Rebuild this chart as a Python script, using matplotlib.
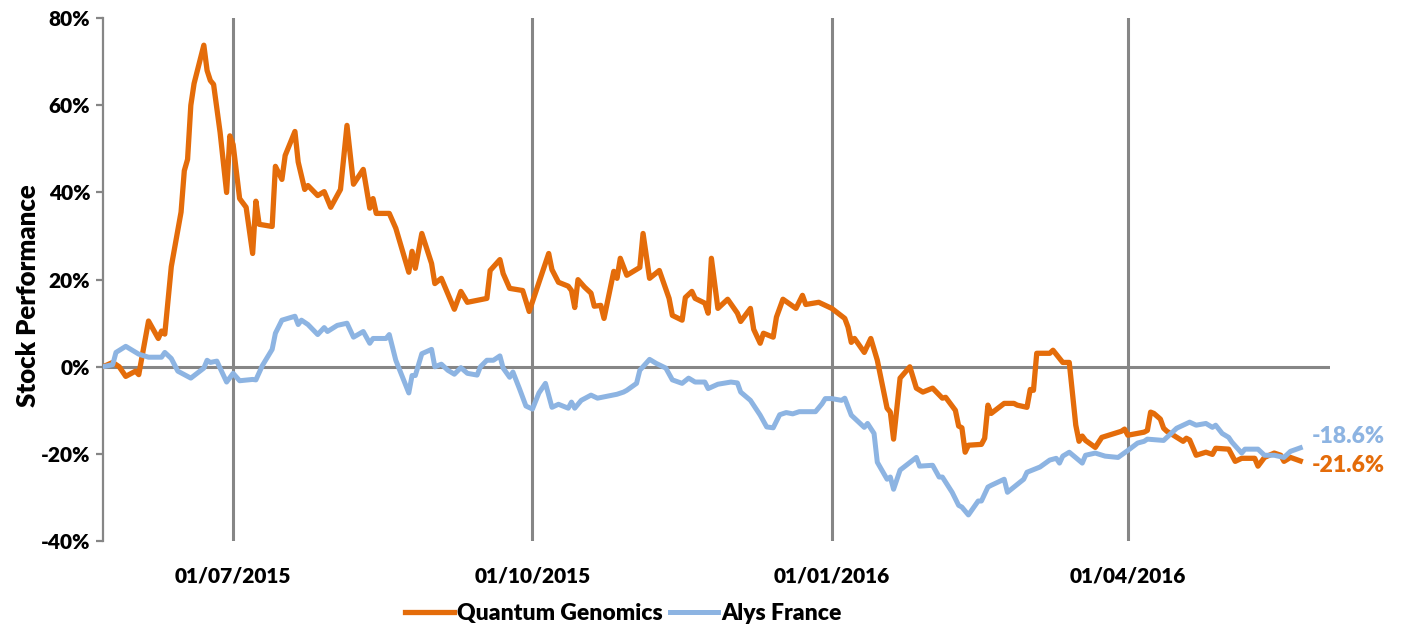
import pandas as pd
import matplotlib
matplotlib.use('Agg')
import matplotlib.pyplot as plt
import matplotlib.dates as mdates
from matplotlib.ticker import FuncFormatter

plt.rcParams['font.family'] = ['Lato', 'DejaVu Sans']
plt.rcParams['font.weight'] = 'heavy'

start = pd.Timestamp('2015-05-22')

# Quantum Genomics: days since start, performance in %
qg_days = [0, 3, 5, 7, 10, 11, 14, 17, 18, 19, 21, 24, 25, 26, 27, 28, 31, 32, 33, 34,
           36, 38, 39, 40, 42, 44, 46, 47, 48, 52, 53, 55, 56, 59, 60, 62, 63, 66, 68, 70,
           73, 75, 77, 80, 82, 83, 84, 88, 90, 94, 95, 96, 98, 101, 102, 104, 108, 110, 112, 118,
           119, 122, 123, 125, 129, 131, 137, 138, 140, 143, 144, 145, 146, 148, 150, 151, 153, 154, 157, 158,
           159, 161, 165, 166, 168, 171, 174, 175, 178, 179, 181, 182, 185, 186, 187, 189, 192, 195, 196, 199,
           200, 202, 203, 206, 207, 209, 213, 215, 216, 220, 224, 228, 229, 230, 231, 234, 236, 238, 241, 242,
           243, 245, 248, 250, 252, 255, 258, 259, 262, 263, 264, 265, 266, 270, 271, 272, 273, 277, 280, 281,
           284, 285, 286, 287, 291, 292, 295, 297, 299, 300, 301, 302, 305, 307, 313, 314, 315, 320, 321, 322,
           323, 325, 326, 327, 329, 332, 333, 334, 336, 339, 341, 342, 346, 348, 350, 354, 355, 357, 360, 362,
           363, 365, 368]
qg_perf = [0, 1.0, 0, -2.2, -1.0, -1.8, 10.5, 6.5, 8.2, 7.5, 23, 35.5, 45, 47.6, 60, 65, 73.8, 68, 65.7, 64.8,
           53.8, 40, 53, 51, 38.6, 36.6, 26, 38, 32.7, 32.2, 46, 43, 48.5, 54, 47, 40.7, 41.6, 39.3, 40.2, 36.6,
           40.7, 55.4, 41.9, 45.3, 36.4, 38.6, 35.2, 35.2, 31.8, 21.7, 26.5, 22.6, 30.6, 23.7, 19.1, 20.3, 13.2, 17.3, 14.8, 15.7,
           22.1, 24.6, 21.4, 18, 17.5, 12.7, 26, 22.3, 19.4, 18.5, 17.5, 13.6, 20, 18.3, 16.9, 13.9, 14.1, 11.1, 21.9, 20.3,
           24.9, 21, 22.8, 30.6, 20.3, 22.1, 15.7, 11.8, 10.7, 15.9, 17.3, 15.7, 14.6, 12.3, 24.9, 13.4, 15.5, 12.3, 10.4, 13.4,
           8.6, 5.4, 7.7, 6.8, 11.4, 15.5, 13.4, 16.4, 14.3, 14.8, 13.4, 11.1, 9.1, 5.6, 6.5, 3.3, 6.5, 1.5, -9.5, -10.4,
           -16.6, -2.6, 0, -4.9, -5.8, -4.9, -7.2, -7, -10, -13.6, -14, -19.6, -18, -17.8, -16.4, -8.8, -10.7, -8.4, -8.4, -8.8,
           -9.3, -5.2, -5.4, 3.1, 3.1, 3.8, 1, 1, -13.4, -17.1, -15.9, -16.9, -18.5, -16.2, -14.8, -14.3, -15.7, -15, -14.6, -10.4,
           -10.7, -12, -14.1, -14.8, -15.7, -17.1, -16.4, -16.8, -20.3, -19.6, -20.1, -18.7, -18.9, -21.7, -21, -21, -22.8, -20.8, -19.8, -20.3,
           -21.7, -20.8, -21.6]

# Alys France
af_days = [0, 3, 4, 7, 9, 11, 14, 18, 19, 21, 23, 27, 31, 32, 33, 35, 36, 38, 40, 42,
           46, 47, 49, 52, 53, 55, 59, 60, 61, 63, 66, 68, 69, 72, 75, 77, 80, 82, 83, 87,
           88, 90, 94, 95, 96, 98, 101, 102, 104, 106, 108, 110, 112, 115, 116, 118, 120, 122, 123, 125,
           126, 128, 130, 132, 134, 136, 138, 140, 143, 144, 145, 147, 150, 152, 158, 160, 161, 164, 165, 168,
           170, 173, 175, 178, 180, 182, 185, 186, 189, 193, 195, 196, 199, 202, 204, 206, 208, 210, 212, 214,
           217, 219, 221, 222, 224, 227, 228, 230, 234, 235, 237, 238, 241, 242, 243, 245, 250, 251, 255, 257,
           258, 261, 263, 264, 266, 269, 270, 272, 273, 277, 278, 283, 284, 288, 291, 293, 294, 295, 297, 301,
           302, 305, 308, 312, 315, 318, 320, 321, 326, 330, 334, 336, 339, 341, 342, 344, 346, 347, 350, 351,
           355, 357, 360, 363, 365, 368]
af_perf = [0, 0.5, 3.3, 4.7, 3.8, 2.9, 2.2, 2.2, 3.3, 1.9, -1, -2.6, -0.3, 1.5, 1, 1.3, -0.3, -3.5, -1.5, -3.2,
           -2.9, -3, 0.3, 4, 7.7, 10.7, 11.6, 9.7, 10.7, 9.7, 7.4, 9, 8.1, 9.5, 10, 6.8, 8.1, 5.4, 6.5, 6.5,
           7.4, 1.5, -6, -2, -2, 3, 4, 0, 0.6, -0.8, -1.7, -0.2, -1.5, -1.9, 0, 1.5, 1.5, 2.5, -0.3, -2.4,
           -1.2, -5, -9, -9.7, -6, -3.8, -9.3, -8.6, -9.5, -8.1, -9.5, -7.7, -6.5, -7.2, -6.3, -5.8, -5.4, -3.8, -0.8, 1.7,
           0.8, -0.3, -3, -3.8, -2.6, -3.5, -3.5, -5, -4, -3.5, -3.7, -5.8, -7.7, -11.1, -13.8, -14, -11, -10.5, -10.8, -10.3,
           -10.3, -10.3, -8.5, -7.3, -7.3, -7.7, -7.2, -11.1, -13.9, -13, -15.3, -21.9, -25.8, -25.3, -28.1, -23.7, -20.8, -22.8, -22.6, -25.3,
           -25.3, -28.8, -31.8, -32.2, -34, -30.8, -30.8, -27.6, -27.2, -25.8, -28.8, -25.8, -24.2, -23, -21.4, -21, -22.1, -20.5, -19.6, -22.1,
           -20.3, -19.8, -20.5, -20.8, -19.2, -17.5, -17.1, -16.6, -16.9, -14.1, -12.7, -13.4, -13, -13.9, -13.4, -15.3, -16.2, -17.3, -19.8, -18.9,
           -18.9, -20.3, -20.3, -20.8, -19.4, -18.6]

qg_dates = start + pd.to_timedelta(qg_days, unit='D')
af_dates = start + pd.to_timedelta(af_days, unit='D')

orange = '#E46C0A'
blue = '#8DB4E2'
grey = '#868686'

fig = plt.figure(figsize=(14.01, 6.27), dpi=100)
ax = fig.add_axes([0.0735, 0.137, 0.8755, 0.834])

ax.plot(qg_dates, qg_perf, color=orange, lw=3.8, solid_joinstyle='round', label='Quantum Genomics', zorder=3)
ax.plot(af_dates, af_perf, color=blue, lw=3.6, solid_joinstyle='round', label='Alys France', zorder=4)

ax.set_ylim(-40, 80)
ax.set_xlim(start, start + pd.Timedelta(days=377))
ax.set_yticks(range(-40, 81, 20))
ax.yaxis.set_major_formatter(FuncFormatter(lambda v, p: f'{v:.0f}%'))
ax.xaxis.set_major_locator(mdates.MonthLocator(bymonth=[1, 4, 7, 10]))
ax.xaxis.set_major_formatter(mdates.DateFormatter('%d/%m/%Y'))

ax.axhline(0, color=grey, lw=2.2, zorder=2)
ax.grid(axis='x', color=grey, lw=2.2, zorder=1)
ax.set_axisbelow(True)

for s in ['top', 'right', 'bottom']:
    ax.spines[s].set_visible(False)
ax.spines['left'].set_color(grey)
ax.spines['left'].set_linewidth(1.6)
ax.tick_params(axis='y', direction='out', length=5, width=1.6, color=grey, labelsize=15, pad=4)
ax.tick_params(axis='x', length=0, labelsize=15, pad=18)

fig.text(0.02, 0.528, 'Stock Performance', rotation=90, ha='center', va='center',
         fontsize=18.5)

ax.annotate(f'{af_perf[-1]:.1f}%', xy=(af_dates[-1], af_perf[-1]), xytext=(8, 8),
            textcoords='offset points', color=blue, fontsize=16.5,
            ha='left', va='center', annotation_clip=False)
ax.annotate(f'{qg_perf[-1]:.1f}%', xy=(qg_dates[-1], qg_perf[-1]), xytext=(8, -3),
            textcoords='offset points', color=orange, fontsize=16.5,
            ha='left', va='center', annotation_clip=False)

fig.legend(loc='center', bbox_to_anchor=(0.445, 0.022), ncol=2, frameon=False,
           fontsize=16.5, handlelength=2.1, handletextpad=0.15, columnspacing=0.3)

fig.savefig('out.png', dpi=100)
